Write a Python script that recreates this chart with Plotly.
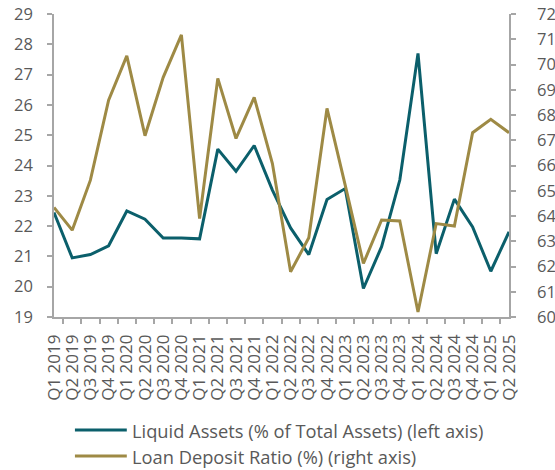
import plotly.graph_objects as go

quarters = [
    "Q1 2019", "Q2 2019", "Q3 2019", "Q4 2019",
    "Q1 2020", "Q2 2020", "Q3 2020", "Q4 2020",
    "Q1 2021", "Q2 2021", "Q3 2021", "Q4 2021",
    "Q1 2022", "Q2 2022", "Q3 2022", "Q4 2022",
    "Q1 2023", "Q2 2023", "Q3 2023", "Q4 2023",
    "Q1 2024", "Q2 2024", "Q3 2024", "Q4 2024",
    "Q1 2025", "Q2 2025",
]

# Liquid assets, % of total assets (left axis)
liquid_assets = [
    22.45, 20.95, 21.06, 21.35, 22.50, 22.23, 21.61, 21.61, 21.58,
    24.54, 23.81, 24.66, 23.19, 21.94, 21.06, 22.88, 23.24, 19.94,
    21.32, 23.52, 27.70, 21.09, 22.89, 21.97, 20.51, 21.81,
]

# Loan-to-deposit ratio, % (right axis)
loan_deposit = [
    64.34, 63.44, 65.42, 68.59, 70.34, 67.18, 69.49, 71.17, 63.90,
    69.45, 67.07, 68.70, 66.08, 61.79, 63.14, 68.26, 65.22, 62.12,
    63.84, 63.80, 60.20, 63.70, 63.60, 67.30, 67.83, 67.30,
]

left_ticks = list(range(19, 30))
right_ticks = list(range(60, 73))

series_names = [
    "Liquid Assets (% of Total Assets) (left axis)",
    "Loan Deposit Ratio (%) (right axis)",
]

TEAL = "#0B5F6B"
GOLD = "#9E8A45"
AXIS = "#A6A6A6"
TEXT = "#595959"
FONT = "Open Sans, Lato, sans-serif"

fig = go.Figure()
fig.add_trace(go.Scatter(
    x=quarters, y=liquid_assets, name=series_names[0], mode="lines",
    line=dict(color=TEAL, width=3), yaxis="y",
))
fig.add_trace(go.Scatter(
    x=quarters, y=loan_deposit, name=series_names[1], mode="lines",
    line=dict(color=GOLD, width=3), yaxis="y2",
))

axis_common = dict(
    showline=True, linecolor=AXIS, linewidth=1.5,
    ticks="outside", ticklen=5, tickcolor=AXIS, tickwidth=1.5,
    showgrid=False, zeroline=False, automargin=False,
)

fig.update_layout(
    width=555, height=470,
    margin=dict(l=54, r=46, t=14, b=153),
    paper_bgcolor="white", plot_bgcolor="white",
    showlegend=False,
    xaxis=dict(
        type="category", tickmode="array", tickvals=quarters,
        tickson="boundaries", tickangle=-90, ticklabelstandoff=9,
        tickfont=dict(family=FONT, size=17, color=TEXT),
        **axis_common,
    ),
    yaxis=dict(range=[19, 29], tickvals=left_ticks, ticklabelstandoff=11,
               tickfont=dict(family=FONT, size=16.5, color=TEXT),
               **axis_common),
    yaxis2=dict(range=[60, 72], tickvals=right_ticks, overlaying="y",
                side="right", ticklabelstandoff=18,
                tickfont=dict(family=FONT, size=16.5, color=TEXT),
                **axis_common),
)

# Legend drawn below the plot: line sample plus label per series
legend_rows = [(-0.373, TEAL), (-0.459, GOLD)]
for (ypos, color), label in zip(legend_rows, series_names):
    fig.add_shape(type="line", xref="paper", yref="paper",
                  x0=0.046, x1=0.160, y0=ypos, y1=ypos,
                  line=dict(color=color, width=3))
    fig.add_annotation(xref="paper", yref="paper", x=0.168, y=ypos,
                       text=label, showarrow=False, xanchor="left",
                       yanchor="middle",
                       font=dict(family=FONT, size=18.3, color=TEXT))

fig.write_html("out.html")
